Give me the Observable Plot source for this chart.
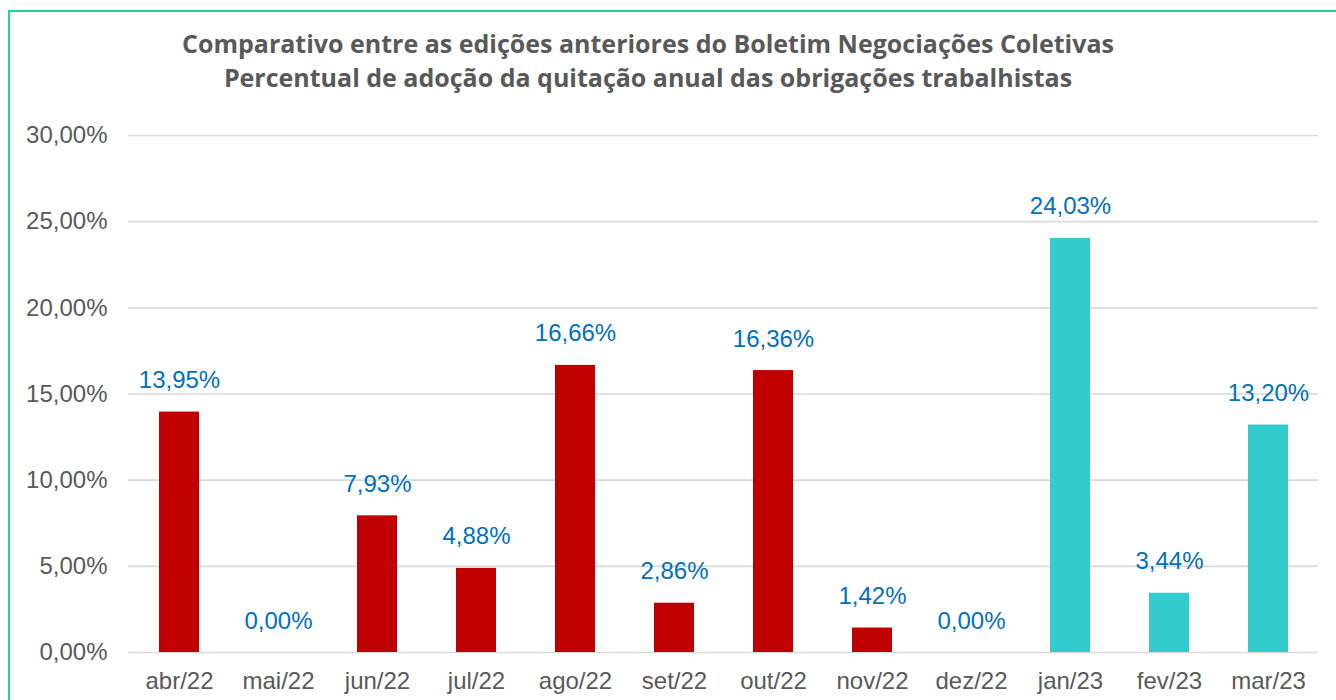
<!DOCTYPE html>
<html>
<head>
<meta charset="utf-8">
<script src="https://cdn.jsdelivr.net/npm/d3@7"></script>
<script src="https://cdn.jsdelivr.net/npm/@observablehq/plot@0.6"></script>
<style>
  html, body { margin: 0; padding: 0; background: #fff; overflow: hidden; }
  #wrap { position: relative; width: 1336px; height: 700px; }
  #frame { position: absolute; left: 8px; top: 10px; width: 1340px; height: 700px;
           border-left: 2px solid #1FD19C; border-top: 2px solid #1FD19C; box-sizing: border-box; }
  #title { position: relative; width: 1296px; height: 110px; box-sizing: border-box; padding-top: 26px;
           text-align: center; font-family: "Open Sans", sans-serif; font-weight: 700; font-size: 25px;
           line-height: 34px; color: #595959; white-space: nowrap; }
  #chart { position: relative; }
</style>
</head>
<body>
<div id="wrap">
  <div id="frame"></div>
  <div id="title">
    <div>Comparativo entre as edições anteriores do Boletim Negociações Coletivas</div>
    <div>Percentual de adoção da quitação anual das obrigações trabalhistas</div>
  </div>
  <div id="chart"></div>
</div>
<script>
const meses = ["abr/22","mai/22","jun/22","jul/22","ago/22","set/22","out/22","nov/22","dez/22","jan/23","fev/23","mar/23"];
const percentuais = [13.95, 0.00, 7.93, 4.88, 16.66, 2.86, 16.36, 1.42, 0.00, 24.03, 3.44, 13.20];
const grupos = ["2022","2022","2022","2022","2022","2022","2022","2022","2022","2023","2023","2023"];
const yTicks = [0, 5, 10, 15, 20, 25, 30];

const dados = meses.map((m, i) => ({mes: m, valor: percentuais[i], grupo: grupos[i]}));
const br = d3.formatLocale({decimal: ",", thousands: ".", grouping: [3], currency: ["R$", ""]});
const fmt = v => br.format(".2f")(v) + "%";

const chart = Plot.plot({
  width: 1336,
  height: 590,
  marginTop: 25,
  marginBottom: 48,
  marginLeft: 128,
  marginRight: 18,
  style: {fontFamily: "'Liberation Sans', Arial, sans-serif", fontSize: "24px", color: "#595959", background: "transparent", overflow: "visible"},
  x: {domain: meses, paddingInner: 0.6, paddingOuter: 0.3, label: null},
  y: {domain: [0, 30], label: null},
  color: {domain: ["2022", "2023"], range: ["#C00000", "#33CCCC"]},
  marks: [
    Plot.gridY(yTicks, {stroke: "#D9D9D9", strokeOpacity: 1, strokeWidth: 1.6}),
    Plot.barY(dados, {x: "mes", y: "valor", fill: "grupo"}),
    Plot.text(dados, {x: "mes", y: "valor", text: d => fmt(d.valor), fill: "#0070C0", lineAnchor: "bottom", dy: -24, fontSize: 24}),
    Plot.axisY(yTicks, {tickSize: 0, tickPadding: 21, tickFormat: fmt, fill: "#595959", fontSize: 24}),
    Plot.axisX({tickSize: 0, tickPadding: 19, fill: "#595959", fontSize: 24})
  ]
});
document.getElementById("chart").appendChild(chart);
</script>
</body>
</html>
